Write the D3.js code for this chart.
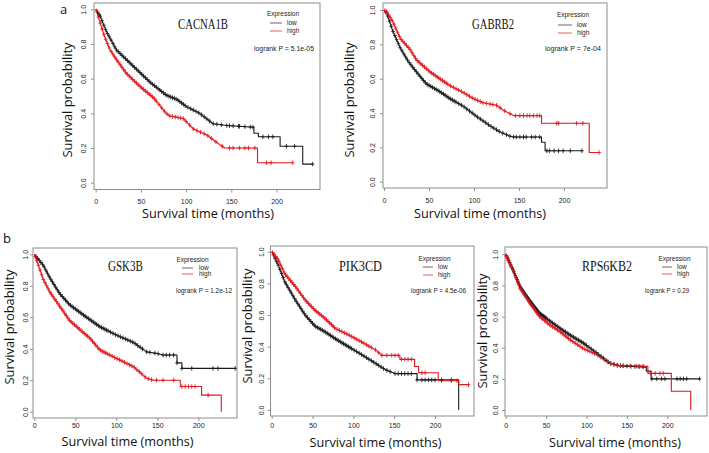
<!DOCTYPE html>
<html><head><meta charset="utf-8">
<script src="https://cdn.jsdelivr.net/npm/d3@7"></script>
<style>html,body{margin:0;padding:0;background:#fff;}svg{display:block;}</style>
</head><body>
<script>
// ---------------- DATA ----------------
const genes = ["CACNA1B", "GABRB2", "GSK3B", "PIK3CD", "RPS6KB2"];
const pTexts = ["logrank P = 5.1e-05", "logrank P = 7e-04", "logrank P = 1.2e-12", "logrank P = 4.5e-06", "logrank P = 0.29"];
const xTicks = [0, 50, 100, 150, 200];
const yTicks = [0, 0.2, 0.4, 0.6, 0.8, 1.0];
const groups = ["low", "high"];

// survival curves: [months, survival probability]
const cacna1bLow = [[0,1],[5,0.96],[12,0.87],[23,0.765],[42,0.67],[60,0.58],[78,0.505],[90,0.48],[100,0.44],[115,0.40],[130,0.34],[145,0.33],[175,0.32],[175,0.285],[180,0.285],[180,0.265],[204,0.265],[204,0.21],[229,0.21],[229,0.107],[240,0.107]];
const cacna1bHigh = [[0,1],[1,0.99],[5,0.92],[10,0.84],[16,0.765],[23,0.71],[34,0.63],[49,0.555],[64,0.49],[78,0.40],[82,0.385],[97,0.37],[108,0.31],[123,0.275],[137,0.22],[143,0.20],[179,0.20],[179,0.115],[218,0.115]];
const gabrb2Low = [[0,1],[3,0.98],[10,0.875],[18,0.78],[27,0.70],[36,0.64],[47,0.57],[62,0.525],[73,0.485],[88,0.44],[103,0.38],[118,0.325],[129,0.29],[140,0.265],[145,0.26],[175,0.26],[175,0.23],[179,0.23],[179,0.18],[220,0.18]];
const gabrb2High = [[0,1],[3,0.99],[10,0.93],[18,0.835],[29,0.77],[36,0.71],[51,0.64],[62,0.60],[73,0.56],[88,0.52],[99,0.485],[110,0.46],[125,0.445],[133,0.415],[144,0.385],[175,0.385],[175,0.34],[228,0.34],[228,0.17],[239,0.17]];
const gsk3bLow = [[0,1],[3,0.98],[11,0.93],[19,0.85],[31,0.75],[43,0.68],[60,0.614],[80,0.54],[100,0.487],[121,0.44],[137,0.38],[150,0.37],[157,0.36],[174,0.36],[174,0.31],[180,0.31],[180,0.275],[245,0.275]];
const gsk3bHigh = [[0,1],[3,0.96],[7,0.90],[11,0.84],[19,0.76],[31,0.67],[43,0.58],[56,0.52],[68,0.466],[80,0.392],[100,0.339],[121,0.286],[137,0.212],[145,0.20],[178,0.20],[178,0.16],[204,0.16],[204,0.105],[228,0.105],[228,0]];
const pik3cdLow = [[0,1],[2,0.98],[8,0.915],[16,0.81],[29,0.695],[41,0.60],[53,0.53],[65,0.495],[78,0.45],[94,0.40],[110,0.35],[127,0.295],[139,0.255],[151,0.23],[178,0.23],[178,0.19],[229,0.19],[229,0]];
const pik3cdHigh = [[0,1],[2,0.99],[8,0.95],[16,0.86],[29,0.78],[41,0.695],[53,0.63],[65,0.58],[78,0.515],[94,0.475],[110,0.43],[127,0.38],[135,0.345],[157,0.345],[157,0.32],[175,0.32],[175,0.275],[180,0.275],[180,0.235],[204,0.235],[204,0.185],[229,0.185],[229,0.16],[241,0.16]];
const rps6kb2Low = [[0,1],[3,0.97],[9,0.90],[18,0.79],[30,0.70],[42,0.62],[55,0.57],[67,0.525],[80,0.48],[96,0.43],[113,0.365],[129,0.30],[140,0.285],[174,0.275],[174,0.25],[180,0.25],[180,0.20],[240,0.20]];
const rps6kb2High = [[0,1],[3,0.96],[9,0.90],[18,0.78],[30,0.685],[42,0.60],[55,0.545],[67,0.505],[80,0.45],[96,0.395],[113,0.355],[129,0.30],[140,0.285],[176,0.28],[176,0.235],[205,0.235],[205,0.12],[229,0.12],[229,0]];

// censoring times (months)
const cacna1bLowCensor = [2,4,5,7,9,11,13,15,17,19,21,23,25,27,29,31,33,35,37,39,41,43,45,47,49,51,53,55,57,59,61,63,65,67,69,71,73,75,77,79,81,83,85,87,89,91,93,95,97,99,102,105,108,111,114,117,120,123,126,130,134,139,145,148,152,158,159,165,171,174,185,191,196,211,220,240];
const cacna1bHighCensor = [1,3,5,7,9,11,13,15,17,19,21,23,25,27,29,31,33,35,37,39,41,43,45,47,49,51,53,55,57,59,61,63,65,67,70,73,76,79,82,85,88,91,94,97,100,104,108,112,116,120,124,128,133,140,148,152,159,165,169,176,189,194,218];
const gabrb2LowCensor = [2,4,6,8,10,12,14,16,18,20,22,24,26,28,30,32,34,36,38,40,42,44,46,48,50,52,54,56,58,60,62,64,66,68,70,72,74,76,78,80,83,86,89,92,95,98,101,104,107,110,113,116,119,122,125,128,132,136,140,144,147,151,155,158,164,168,173,181,184,189,194,199,207,220];
const gabrb2HighCensor = [1,3,5,7,9,11,13,15,17,19,21,23,25,27,29,31,33,35,37,39,41,43,45,47,49,51,53,55,57,59,61,63,65,67,69,71,74,77,80,83,86,89,92,95,98,101,104,107,110,114,118,121,125,129,134,140,146,151,155,159,162,166,170,173,192,194,214,221,239];
const gsk3bLowCensor = [2,4,6,8,10,12,14,16,18,20,22,24,26,28,30,32,34,36,38,40,42,44,46,48,50,52,54,56,58,60,62,64,66,68,70,72,74,76,78,80,82,84,86,88,90,93,96,99,102,105,108,111,114,117,120,123,126,129,132,137,141,147,151,157,161,165,170,174,180,192,218,224,245];
const gsk3bHighCensor = [1,3,5,7,9,11,13,15,17,19,21,23,25,27,29,31,33,35,37,39,41,43,45,47,49,51,53,55,57,59,61,63,65,67,69,71,73,75,77,79,81,83,85,87,89,92,95,98,101,104,107,110,113,116,119,122,125,128,131,135,139,143,149,157,170,180,184,188,192,196,212];
const pik3cdLowCensor = [2,4,6,8,10,12,14,16,18,20,22,24,26,28,30,32,34,36,38,40,42,44,46,48,50,52,54,56,58,60,62,64,66,68,70,72,74,76,78,80,82,84,86,88,90,92,94,96,98,101,104,107,110,113,116,119,122,125,128,131,134,137,141,145,151,155,159,163,167,171,178,184,188,192,196,200,208,220];
const pik3cdHighCensor = [1,3,5,7,9,11,13,15,17,19,21,23,25,27,29,31,33,35,37,39,41,43,45,47,49,51,53,55,57,59,61,63,65,67,69,71,73,75,77,80,83,86,89,92,95,98,101,104,107,110,113,116,119,122,127,131,135,141,147,151,155,159,163,167,171,184,188,220,227,241];
const rps6kb2LowCensor = [1,2,3,4,5,6,7,8,9,10,11,12,13,14,15,16,17,18,19,20,21,22,23,24,25,26,27,28,29,30,31,32,33,34,35,36,37,38,39,40,41,42,43,44,45,46,47,48,49,50,52,54,56,58,60,62,64,66,68,70,72,74,76,78,80,82,84,86,88,90,92,94,96,98,100,103,106,109,112,115,118,121,124,127,130,134,138,142,145,150,155,160,165,170,181,187,193,197,212,216,220,224,240];
const rps6kb2HighCensor = [1,2,3,5,6,7,9,10,12,13,15,16,18,19,21,22,24,25,27,28,30,31,33,34,36,37,39,40,42,44,46,48,50,52,54,56,58,60,62,64,66,68,70,72,74,76,78,80,83,86,89,92,95,98,101,104,107,110,114,118,122,126,130,134,138,142,146,154,162,166,170,179,185,191,195];

// ---------------- LAYOUT / STYLE ----------------
const W = 709, H = 453;
const RED = "#e3161c", BLACK = "#1a1a1a";
const layout = [
  {box:[94,320,3,189.5], x0:95.7, x200:276.5, y1:9.3, y0:182.7, ytlx:86, xtly:204, xl:[208,218], yl:[72,100], title:[203,29,50], leg:[283,14,270,282,23,31,287], lr:[284,51,60], panelLab:["a",60,14]},
  {box:[383,607,3,188], x0:384, x200:564, y1:10, y0:181.7, ytlx:375, xtly:203, xl:[480,218], yl:[354,100], title:[493,29,42], leg:[573,15,558,572,25,33,577], lr:[573,51,56]},
  {box:[33,237,248,418], x0:34.3, x200:198.3, y1:254.3, y0:411.7, ytlx:27.5, xtly:428, xl:[127.5,446], yl:[14,327], title:[125.5,271,35], leg:[192.5,260,182,193,268,274,199], lr:[204,293,56], panelLab:["b",3,243]},
  {box:[270.5,474,246,416], x0:271.7, x200:435, y1:251.7, y0:410, ytlx:263.5, xtly:428, xl:[375.5,447], yl:[252,326], title:[360.5,271,43], leg:[434.5,259,423,433,267,275,438], lr:[438.5,293,55]},
  {box:[505,707,247,416], x0:505.7, x200:667.3, y1:254.3, y0:410, ytlx:497.5, xtly:428, xl:[615,447], yl:[487,331], title:[607,271,50], leg:[674.5,259,662,672,267,274,677], lr:[667,293,44]}
];

const curves = [
  [cacna1bLow, cacna1bHigh], [gabrb2Low, gabrb2High], [gsk3bLow, gsk3bHigh], [pik3cdLow, pik3cdHigh], [rps6kb2Low, rps6kb2High]
];
const censors = [
  [cacna1bLowCensor, cacna1bHighCensor], [gabrb2LowCensor, gabrb2HighCensor], [gsk3bLowCensor, gsk3bHighCensor], [pik3cdLowCensor, pik3cdHighCensor], [rps6kb2LowCensor, rps6kb2HighCensor]
];

function yAt(pts, t) {
  let v = pts[pts.length - 1][1];
  if (t <= pts[0][0]) return pts[0][1];
  for (let i = 0; i < pts.length - 1; i++) {
    const a = pts[i], b = pts[i + 1];
    if (b[0] > a[0] && t >= a[0] && t <= b[0]) {
      v = a[1] + (b[1] - a[1]) * (t - a[0]) / (b[0] - a[0]);
    }
  }
  return v;
}

const svg = d3.select("body").append("svg").attr("width", W).attr("height", H);

layout.forEach((L, i) => {
  const g = svg.append("g");
  const x = d3.scaleLinear().domain([0, 200]).range([L.x0, L.x200]);
  const y = d3.scaleLinear().domain([0, 1]).range([L.y0, L.y1]);
  const [bl, br, bt, bb] = L.box;

  // axes (ticks outward)
  const xa = g.append("g").attr("transform", `translate(0,${bb})`)
    .call(d3.axisBottom(x).tickValues(xTicks).tickSize(3).tickPadding(2).tickFormat(d3.format("d")));
  const ya = g.append("g").attr("transform", `translate(${bl},0)`)
    .call(d3.axisLeft(y).tickValues(yTicks).tickSize(3).tickFormat(d3.format(".1f")));
  [xa, ya].forEach(a => {
    a.select(".domain").remove();
    a.selectAll(".tick line").attr("stroke", "#777").attr("stroke-width", 0.8);
  });
  xa.selectAll(".tick text").attr("dy", null).attr("transform", null)
    .attr("y", L.xtly - bb)
    .attr("font-family", "Liberation Sans, Arial, sans-serif").attr("font-size", 7).attr("fill", "#222");
  ya.selectAll(".tick text").each(function() {
    d3.select(this).attr("x", null).attr("dy", null).attr("y", null)
      .attr("text-anchor", "middle")
      .attr("transform", `translate(${L.ytlx - bl},0) rotate(-90)`);
  }).attr("font-family", "Liberation Sans, Arial, sans-serif").attr("font-size", 7).attr("fill", "#222");

  // box
  g.append("rect").attr("x", bl).attr("y", bt).attr("width", br - bl).attr("height", bb - bt)
    .attr("fill", "none").attr("stroke", "#8c8c8c").attr("stroke-width", 1);

  // curves
  const line = d3.line().x(d => x(d[0])).y(d => y(d[1]));
  const colors = [BLACK, RED];
  curves[i].forEach((c, k) => {
    g.append("path").datum(c).attr("d", line).attr("fill", "none")
      .attr("stroke", colors[k]).attr("stroke-width", 1.1).attr("stroke-linejoin", "round");
  });
  censors[i].forEach((cs, k) => {
    const c = curves[i][k];
    g.append("g").selectAll("path").data(cs).join("path")
      .attr("d", t => {
        const px = x(t), py = y(yAt(c, t));
        return `M${px - 1.8},${py}H${px + 1.8}M${px},${py - 2.3}V${py + 2.3}`;
      })
      .attr("stroke", colors[k]).attr("stroke-width", 0.85).attr("fill", "none");
  });

  // title
  g.append("text").attr("x", L.title[0]).attr("y", L.title[1]).attr("text-anchor", "middle")
    .attr("font-family", "Liberation Serif, Times New Roman, serif").attr("font-size", 14)
    .attr("textLength", L.title[2]).attr("lengthAdjust", "spacingAndGlyphs").attr("fill", "#111")
    .text(genes[i]);

  // legend
  const lg = L.leg;
  g.append("text").attr("x", lg[0]).attr("y", lg[1] + 2).attr("text-anchor", "middle")
    .attr("font-family", "Liberation Sans, Arial, sans-serif").attr("font-size", 6.5).attr("fill", "#222")
    .text("Expression");
  groups.forEach((gr, k) => {
    const ly = k === 0 ? lg[4] : lg[5];
    g.append("line").attr("x1", lg[2]).attr("x2", lg[3]).attr("y1", ly).attr("y2", ly)
      .attr("stroke", k === 0 ? "#555" : "#e8474b").attr("stroke-width", 0.9);
    g.append("text").attr("x", lg[6]).attr("y", ly + 2.3)
      .attr("font-family", "Liberation Sans, Arial, sans-serif").attr("font-size", 6.5).attr("fill", "#222")
      .text(gr);
  });
  g.append("text").attr("x", L.lr[0]).attr("y", L.lr[1]).attr("text-anchor", "middle")
    .attr("font-family", "Liberation Sans, Arial, sans-serif").attr("font-size", 6.5).attr("fill", "#222")
    .attr("textLength", L.lr[2]).attr("lengthAdjust", "spacingAndGlyphs")
    .text(pTexts[i]);

  // axis titles
  g.append("text").attr("x", L.xl[0]).attr("y", L.xl[1]).attr("text-anchor", "middle")
    .attr("font-family", "Open Sans, Noto Sans, sans-serif").attr("font-size", 13.5).attr("fill", "#111")
    .attr("textLength", 132).attr("lengthAdjust", "spacingAndGlyphs")
    .text("Survival time (months)");
  g.append("text").attr("transform", `translate(${L.yl[0]},${L.yl[1]}) rotate(-90)`).attr("text-anchor", "middle")
    .attr("font-family", "Open Sans, Noto Sans, sans-serif").attr("font-size", 13.5).attr("fill", "#111")
    .attr("textLength", 115).attr("lengthAdjust", "spacingAndGlyphs")
    .text("Survival probability");

  if (L.panelLab) {
    g.append("text").attr("x", L.panelLab[1]).attr("y", L.panelLab[2])
      .attr("font-family", "Open Sans, Noto Sans, sans-serif").attr("font-size", 13).attr("fill", "#111")
      .text(L.panelLab[0]);
  }
});
</script>
</body></html>
